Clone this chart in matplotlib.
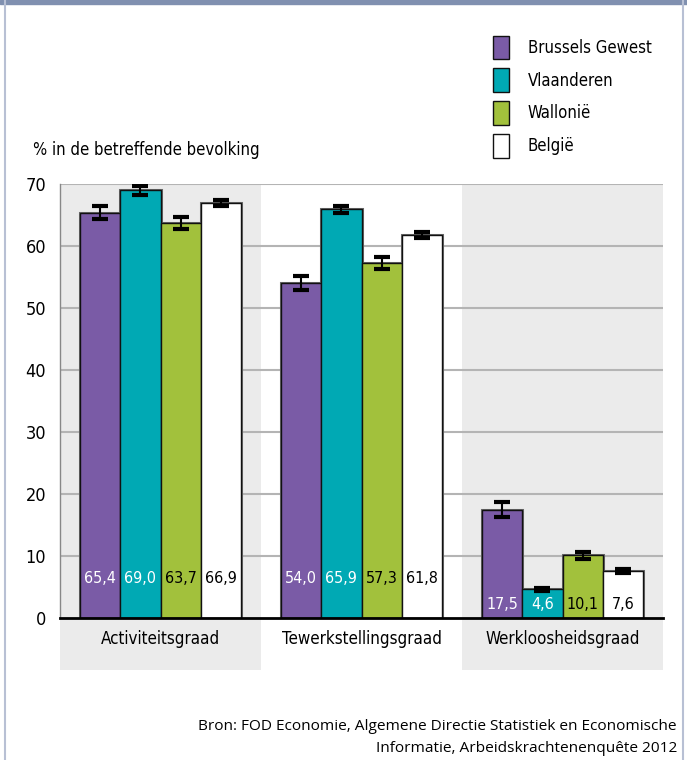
import numpy as np
import matplotlib.pyplot as plt
from matplotlib import font_manager
from matplotlib.patches import Rectangle
from matplotlib.lines import Line2D

# data
groups = ['Activiteitsgraad', 'Tewerkstellingsgraad', 'Werkloosheidsgraad']
regions = ['Brussels Gewest', 'Vlaanderen', 'Wallonië', 'België']
values = [[65.4, 54.0, 17.5],
          [69.0, 65.9, 4.6],
          [63.7, 57.3, 10.1],
          [66.9, 61.8, 7.6]]
errors = [[1.0, 1.1, 1.2],
          [0.7, 0.6, 0.3],
          [1.0, 1.0, 0.6],
          [0.5, 0.5, 0.3]]
labels = [['65,4', '54,0', '17,5'],
          ['69,0', '65,9', '4,6'],
          ['63,7', '57,3', '10,1'],
          ['66,9', '61,8', '7,6']]
colors = ['#7a5ba6', '#00a9b4', '#a2c13c', '#ffffff']
txtcolors = ['white', 'white', 'black', 'black']
yticks = [0, 10, 20, 30, 40, 50, 60, 70]

# look for a condensed face
found = [(f.name, f.stretch, f.fname) for f in font_manager.fontManager.ttflist
         if 'narrow' in f.fname.lower() or 'condensed' in f.fname.lower()]
cond_stretch = 'normal'
narrow = ['DejaVu Sans']
for name, stretch, fname in found:
    if 'liberation' in fname.lower():
        narrow = [name, 'DejaVu Sans']
        cond_stretch = stretch
        break
else:
    for name, stretch, fname in found:
        narrow = [name, 'DejaVu Sans']
        cond_stretch = stretch
        break

def ft(size):
    return font_manager.FontProperties(family=narrow, size=size, stretch=cond_stretch)

fig = plt.figure(figsize=(6.87, 7.6), dpi=100)
ax = fig.add_axes([60/687, 142/760, 603/687, 434/760])

# frame around the figure
fig.patches.append(Rectangle((0, 1 - 4/760), 1, 4/760, transform=fig.transFigure,
                             color='#8090b0', zorder=0))
fig.add_artist(Line2D([5/687, 5/687], [0, 1], color='#b8c0d4', lw=1.5))
fig.add_artist(Line2D([683/687, 683/687], [0, 1], color='#b8c0d4', lw=1.5))

# shaded columns
for g in [0, 2]:
    ax.add_patch(Rectangle((g - 0.5, -8.4), 1, 78.4, color='#ebebeb',
                           zorder=0, clip_on=False, lw=0))

for y in yticks[1:]:
    ax.axhline(y, color='#b4b4b4', lw=1.5, zorder=1)

x = np.arange(len(groups))
w = 0.2
for i in range(len(regions)):
    xs = x + (i - 1.5) * w
    ax.bar(xs, values[i], w, color=colors[i], edgecolor='#6a6a6a', lw=2.2, zorder=2)
    ax.bar(xs, values[i], w, color=colors[i], edgecolor='#111111', lw=1.0, zorder=3,
           label=regions[i])
    ax.errorbar(xs, values[i], yerr=errors[i], fmt='none', ecolor='black', elinewidth=1.5,
                capsize=5.5, capthick=3, zorder=4)
    for j in range(len(groups)):
        ty = 6.4 if j < 2 else 2.1
        ax.text(xs[j], ty, labels[i][j], ha='center', va='center', color=txtcolors[i],
                fontproperties=ft(11.5), zorder=5)

ax.set_xlim(-0.5, 2.5)
ax.set_ylim(0, 70)
ax.set_yticks(yticks)
ax.set_yticklabels([str(t) for t in yticks], fontproperties=ft(13))
ax.tick_params(axis='y', length=0, pad=10)
ax.set_xticks(x)
ax.set_xticklabels(groups, fontproperties=ft(12.2))
ax.tick_params(axis='x', length=0, pad=9)
for s in ['top', 'right']:
    ax.spines[s].set_visible(False)
ax.spines['left'].set_color('#888888')
ax.spines['left'].set_linewidth(1)
ax.spines['bottom'].set_color('black')
ax.spines['bottom'].set_linewidth(2)
ax.spines['bottom'].set_zorder(6)

fig.text(33/687, 1 - 150/760, '% in de betreffende bevolking', fontproperties=ft(12),
         va='center', ha='left')

leg = fig.legend(loc='upper left', bbox_to_anchor=(486/687, 1 - 29/760), frameon=False,
                 prop=ft(12), handlelength=1.0, handleheight=1.8,
                 labelspacing=0.55, handletextpad=1.1, borderaxespad=0)

fig.text(677/687, 1 - 727/760, 'Bron: FOD Economie, Algemene Directie Statistiek en Economische',
         fontsize=11.1, ha='right', va='center', family=['Open Sans', 'DejaVu Sans'])
fig.text(677/687, 1 - 748/760, 'Informatie, Arbeidskrachtenenquête 2012',
         fontsize=11.1, ha='right', va='center', family=['Open Sans', 'DejaVu Sans'])

fig.savefig('out.png', dpi=100)
